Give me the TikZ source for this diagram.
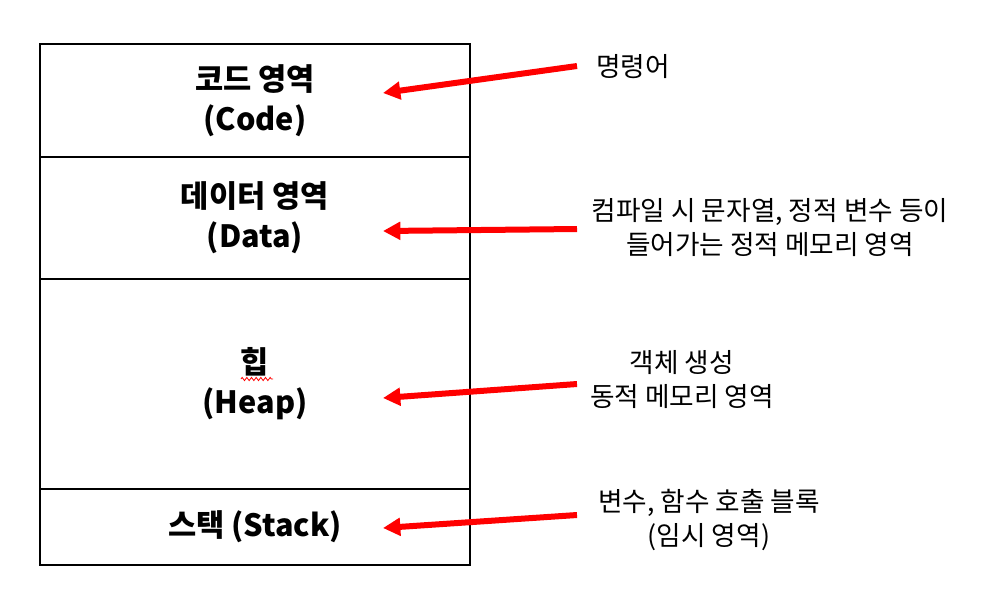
\documentclass[tikz,border=0pt]{standalone}
\usepackage{fontspec}
\setmainfont{Noto Sans CJK KR}
\usepackage{xcolor}
\usetikzlibrary{arrows.meta, positioning, calc, decorations.pathmorphing}
\definecolor{pointerred}{RGB}{255, 0, 0}

\begin{document}
\begin{tikzpicture}[
    x=0.75pt, y=-0.75pt,
    area/.style={rectangle, draw=black, line width=1.4pt, minimum width=322.5pt, outer sep=0pt, align=center, font=\fontsize{23}{30}\selectfont\bfseries},
    note/.style={align=center, font=\fontsize{20}{25.5}\selectfont},
    pointer/.style={-{Triangle[length=13pt, width=13pt]}, line width=4.5pt, pointerred}
]
\useasboundingbox (0,0) rectangle (984,612);

% memory layout
\node[area, minimum height=84.75pt, anchor=north] (code) at (255,44) {코드 영역\\(Code)};
\node[area, minimum height=91.5pt, below=0pt of code] (data) {데이터 영역\\(Data)};
\node[area, minimum height=157.5pt, below=0pt of data] (heap) {힙\\(Heap)};
\node[area, minimum height=57pt, below=0pt of heap] (stack) {스택 (Stack)};

% spell-check squiggle under the heap label
\draw[pointerred, line width=0.6pt, decorate, decoration={zigzag, segment length=3.5pt, amplitude=1.2pt}]
    ($(heap.center)+(-14,-5)$) -- ($(heap.center)+(18,-5)$);

% descriptions
\node[note] (codenote) at (633,67) {명령어};
\node[note] (datanote) at (770,228) {컴파일 시 문자열, 정적 변수 등이\\들어가는 정적 메모리 영역};
\node[note] (heapnote) at (682,380) {객체 생성\\동적 메모리 영역};
\node[note] (stacknote) at (709,520) {변수, 함수 호출 블록\\(임시 영역)};

\coordinate (codefrom) at (577,66);
\coordinate (codeto) at (383,93);
\coordinate (datafrom) at (577,229);
\coordinate (datato) at (383,231);
\coordinate (heapfrom) at (577,384);
\coordinate (heapto) at (383,398);
\coordinate (stackfrom) at (577,515);
\coordinate (stackto) at (383,528);

\draw[pointer] (codefrom) -- (codeto);
\draw[pointer] (datafrom) -- (datato);
\draw[pointer] (heapfrom) -- (heapto);
\draw[pointer] (stackfrom) -- (stackto);
\end{tikzpicture}
\end{document}
